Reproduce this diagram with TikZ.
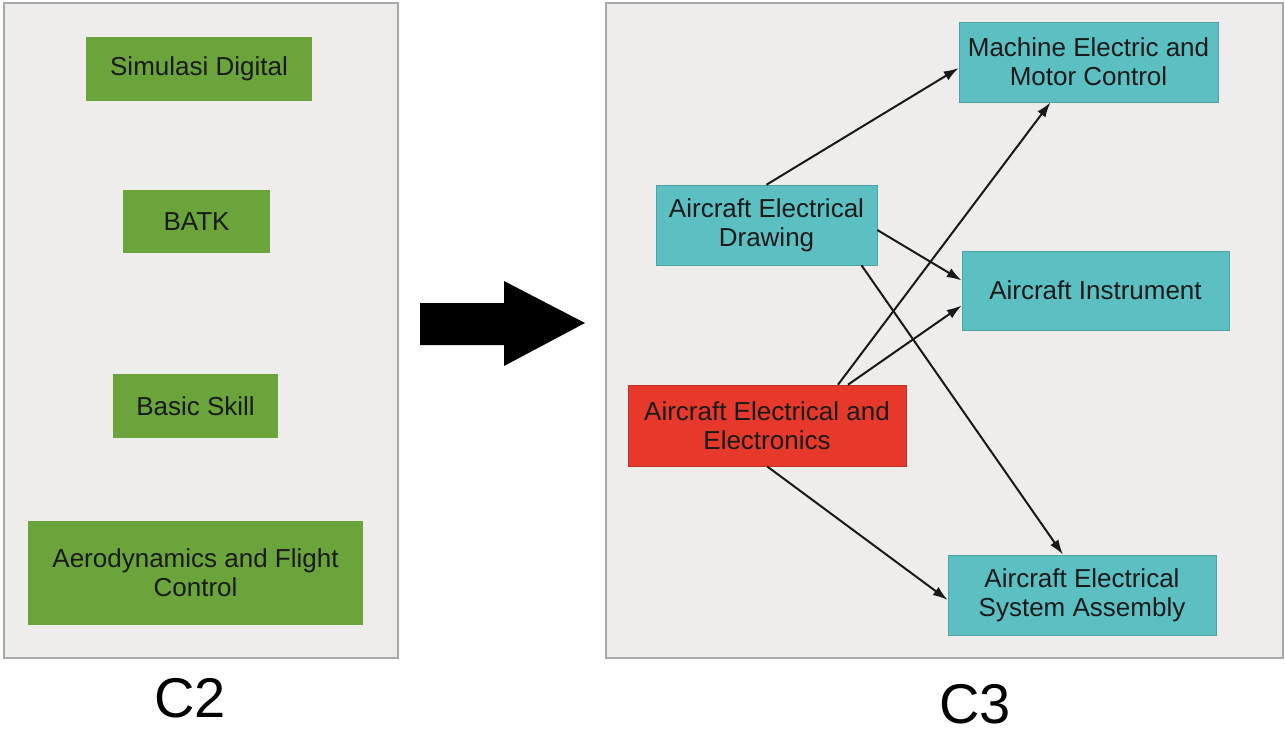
\documentclass[tikz,border=0pt]{standalone}
\usepackage{fontspec}
\setmainfont{Liberation Sans}
\usetikzlibrary{arrows.meta,calc}
\definecolor{panelfill}{HTML}{EEEDEB}
\definecolor{panelline}{HTML}{A8A8A8}
\definecolor{boxgreen}{HTML}{6AA43A}
\definecolor{boxcyan}{HTML}{5CBFC1}
\definecolor{boxred}{HTML}{E6392B}
\definecolor{textdark}{HTML}{1A1A1A}
\begin{document}
\begin{tikzpicture}[x=1pt,y=-1pt,
  panel/.style={draw=panelline,line width=1.2pt,fill=panelfill},
  box/.style={rectangle,inner sep=0pt,align=center,text=textdark,
    font=\fontsize{26}{29}\selectfont},
  gbox/.style={box,fill=boxgreen},
  cbox/.style={box,fill=boxcyan,draw=boxcyan!85!black,line width=0.6pt},
  rbox/.style={box,fill=boxred,draw=boxred!85!black,line width=0.6pt},
  link/.style={draw=black!90,line width=2pt,-{Latex[length=15pt,width=10pt]}},
  caption/.style={font=\fontsize{56}{60}\selectfont,text=black}
]
\useasboundingbox[fill=white] (0,0) rectangle (1285,733);
% panels
\draw[panel] (4,3) rectangle (398,658);
\draw[panel] (606,3) rectangle (1283,658);
% left boxes
\node[gbox,minimum width=226pt,minimum height=64pt] (sim) at (199,69) {Simulasi Digital};
\node[gbox,minimum width=147pt,minimum height=63pt] (batk) at (196.5,221.5) {BATK};
\node[gbox,minimum width=165pt,minimum height=64pt] (basic) at (195.5,406) {Basic Skill};
\node[gbox,minimum width=335pt,minimum height=104pt] (aero) at (195.5,573) {Aerodynamics and Flight\\Control};
% right boxes
\node[cbox,minimum width=259pt,minimum height=80pt] (mach) at (1088.5,62) {Machine Electric and\\Motor Control};
\node[cbox,minimum width=221pt,minimum height=80pt] (draw) at (766.5,225) {Aircraft Electrical\\Drawing};
\node[cbox,minimum width=267pt,minimum height=79pt] (inst) at (1095.5,290.5) {Aircraft Instrument};
\node[rbox,minimum width=278pt,minimum height=81pt] (aee) at (767,425.5) {Aircraft Electrical and\\Electronics};
\node[cbox,minimum width=268pt,minimum height=80pt] (asm) at (1082,595) {Aircraft Electrical\\System Assembly};
% connectors
\draw[link] (draw.north) -- ([yshift=-6pt]mach.west);
\draw[link] ([xshift=71pt]aee.north) -- ([xshift=-38pt]mach.south);
\draw[link] ([yshift=-5pt]draw.east) -- ([yshift=10pt]inst.west);
\draw[link] ([xshift=81pt]aee.north) -- ([yshift=-15pt]inst.west);
\draw[link] ([xshift=95pt]draw.south) -- ([xshift=-19pt]asm.north);
\draw[link] (aee.south) -- ([yshift=-5pt]asm.west);
% big arrow
\fill[black] (420,303) -- (504,303) -- (504,281) -- (585,323) -- (504,366) -- (504,345) -- (420,345) -- cycle;
% captions
\node[caption] (c2) at (190,698) {C2};
\node[caption] (c3) at (975,704) {C3};
\end{tikzpicture}
\end{document}
